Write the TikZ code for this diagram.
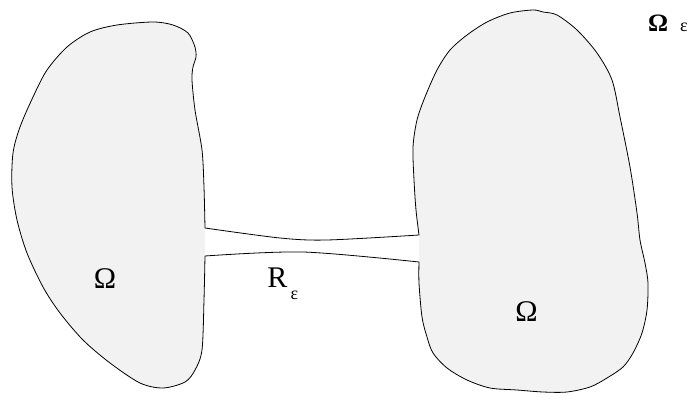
\documentclass[tikz,border=0pt]{standalone}
\usepackage{fontspec}
\setmainfont{Liberation Serif}
\definecolor{blobgray}{HTML}{F2F2F2}
\tikzset{
  outline/.style={draw=black, line width=0.8pt, line join=round},
  blobfill/.style={fill=blobgray},
  biglabel/.style={inner sep=0pt, font=\fontsize{30}{30}\selectfont},
  sublabel/.style={inner sep=0pt, font=\fontsize{18}{18}\selectfont},
}
\def\leftpts{(205,256) (204,300) (202,350) (195,370) (185,382) (163,388) (140,383)
 (110,363) (83,340) (60,313) (43,287) (27,253) (17,220) (12,187) (13,153)
 (20,127) (33,97) (47,70) (67,47) (90,32) (117,25) (153,22) (173,25) (188,33)
 (195,47) (196,57) (193,67) (192,80) (195,110) (202,150) (204,187) (205,228)}
\def\rightpts{(419,262) (419,283) (422,317) (427,337) (433,353) (447,368) (467,380)
 (490,388) (517,390) (543,392) (567,392) (590,387) (607,378) (623,367) (633,353)
 (642,333) (647,310) (648,283) (645,263) (640,240) (637,213) (630,167) (620,117)
 (612,80) (597,53) (577,30) (557,15) (543,12) (533,10) (510,13) (487,22) (467,35)
 (450,50) (437,70) (425,97) (417,120) (413,147) (414,180) (416,210) (419,235)}
\begin{document}
\begin{tikzpicture}[x=1pt,y=-1pt]
\useasboundingbox (0,0) rectangle (690,403);
% blob fills
\fill[blobfill] plot[smooth] coordinates {\leftpts} -- cycle;
\fill[blobfill] plot[smooth] coordinates {\rightpts} -- cycle;
% channel interior
\fill[white] plot[smooth] coordinates {(205,228) (280,238) (327,240) (419,235)}
  -- plot[smooth] coordinates {(419,262) (303,252) (205,256)} -- cycle;
% outlines
\draw[outline] plot[smooth] coordinates {\leftpts};
\draw[outline] plot[smooth] coordinates {\rightpts};
\draw[outline] plot[smooth] coordinates {(205,228) (280,238) (327,240) (419,235)};
\draw[outline] plot[smooth] coordinates {(205,256) (303,252) (419,262)};
% labels
\node[biglabel] (omegaL) at (105,279) {Ω};
\node[biglabel] (omegaR) at (526.5,312) {Ω};
\node[biglabel] (rlab) at (277.5,278) {R};
\node[sublabel] (rsub) at (294.5,295) {ε};
\node[inner sep=0pt, font=\fontsize{25}{25}\selectfont\bfseries] (omegaE) at (658,23) {Ω};
\node[sublabel] (esub) at (684,27) {ε};
\end{tikzpicture}
\end{document}
